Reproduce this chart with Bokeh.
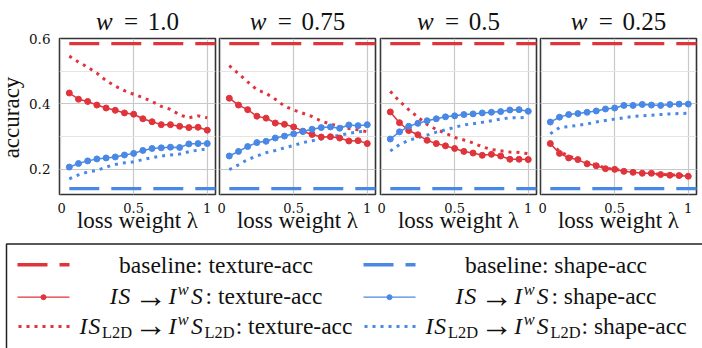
import math
from bokeh.plotting import figure
from bokeh.models import Range1d, FixedTicker, Grid
from bokeh.layouts import column, row
from bokeh.embed import file_html
from bokeh.resources import INLINE
from bokeh.core.properties import value

# ---------------- data ----------------
lam = [i / 16 for i in range(1, 17)]
w_labels = ["1.0", "0.75", "0.5", "0.25"]
baseline_texture_acc = 0.584
baseline_shape_acc = 0.140
x_ticks = [0, 0.5, 1]
x_tick_labels = ["0", "0.5", "1"]
y_ticks = [0.2, 0.4, 0.6]
y_tick_labels = ["0.2", "0.4", "0.6"]

# w = 1.0
texture_IS_w100 = [0.433, 0.414, 0.407, 0.396, 0.387, 0.380, 0.372, 0.368, 0.354, 0.345, 0.336, 0.336, 0.331, 0.327, 0.328, 0.319]
texture_L2D_w100 = [0.546, 0.528, 0.512, 0.494, 0.471, 0.454, 0.440, 0.429, 0.419, 0.407, 0.392, 0.383, 0.366, 0.357, 0.363, 0.357]
shape_IS_w100 = [0.206, 0.217, 0.225, 0.231, 0.234, 0.237, 0.243, 0.248, 0.257, 0.263, 0.265, 0.267, 0.266, 0.277, 0.278, 0.278]
shape_L2D_w100 = [0.170, 0.182, 0.191, 0.196, 0.206, 0.214, 0.219, 0.222, 0.229, 0.235, 0.240, 0.243, 0.246, 0.253, 0.258, 0.262]
# w = 0.75
texture_IS_w075 = [0.417, 0.396, 0.382, 0.362, 0.356, 0.341, 0.337, 0.329, 0.316, 0.306, 0.298, 0.299, 0.295, 0.286, 0.287, 0.278]
texture_L2D_w075 = [0.517, 0.492, 0.467, 0.443, 0.432, 0.414, 0.393, 0.381, 0.371, 0.361, 0.347, 0.338, 0.330, 0.324, 0.320, 0.314]
shape_IS_w075 = [0.240, 0.254, 0.269, 0.281, 0.285, 0.295, 0.301, 0.308, 0.315, 0.322, 0.327, 0.329, 0.325, 0.335, 0.333, 0.336]
shape_L2D_w075 = [0.198, 0.213, 0.229, 0.240, 0.250, 0.257, 0.265, 0.272, 0.281, 0.287, 0.292, 0.298, 0.304, 0.309, 0.314, 0.317]
# w = 0.5
texture_IS_w050 = [0.375, 0.342, 0.318, 0.305, 0.288, 0.278, 0.271, 0.263, 0.254, 0.249, 0.242, 0.245, 0.240, 0.230, 0.230, 0.229]
texture_L2D_w050 = [0.438, 0.408, 0.382, 0.359, 0.337, 0.321, 0.310, 0.297, 0.289, 0.280, 0.268, 0.260, 0.256, 0.252, 0.251, 0.247]
shape_IS_w050 = [0.292, 0.314, 0.331, 0.340, 0.348, 0.354, 0.360, 0.363, 0.367, 0.369, 0.372, 0.374, 0.376, 0.381, 0.382, 0.377]
shape_L2D_w050 = [0.255, 0.275, 0.288, 0.296, 0.304, 0.313, 0.320, 0.328, 0.335, 0.339, 0.343, 0.348, 0.353, 0.357, 0.357, 0.359]
# w = 0.25
texture_IS_w025 = [0.278, 0.248, 0.234, 0.229, 0.216, 0.210, 0.201, 0.199, 0.193, 0.190, 0.187, 0.187, 0.183, 0.181, 0.180, 0.178]
texture_L2D_w025 = [0.278, 0.255, 0.239, 0.231, 0.220, 0.213, 0.203, 0.199, 0.195, 0.191, 0.188, 0.186, 0.184, 0.182, 0.181, 0.179]
shape_IS_w025 = [0.344, 0.359, 0.367, 0.370, 0.374, 0.378, 0.384, 0.387, 0.395, 0.395, 0.398, 0.396, 0.395, 0.398, 0.399, 0.399]
shape_L2D_w025 = [0.308, 0.327, 0.330, 0.334, 0.338, 0.344, 0.349, 0.353, 0.357, 0.361, 0.363, 0.365, 0.367, 0.369, 0.370, 0.371]

panels = [
    (texture_IS_w100, texture_L2D_w100, shape_IS_w100, shape_L2D_w100),
    (texture_IS_w075, texture_L2D_w075, shape_IS_w075, shape_L2D_w075),
    (texture_IS_w050, texture_L2D_w050, shape_IS_w050, shape_L2D_w050),
    (texture_IS_w025, texture_L2D_w025, shape_IS_w025, shape_L2D_w025),
]

# ---------------- style / layout ----------------
RED = "#E0343C"
BLUE = "#4A88E6"
TXT = "#111111"
SERIF = "Liberation Serif"
TICKFONT = "DejaVu Serif"
Y0, Y1 = 0.122, 0.6
X0, X1 = -0.004, 1.056
FRAME_W = 156
FRAME_H = 156
LEFT_W = 57
BORDERS = [(2, 2), (2, 2), (3, 2), (2, 6)]
TITLE_H = 36
PANEL_TOP = 2
PANEL_BOTTOM = 48
PANEL_H = PANEL_TOP + FRAME_H + PANEL_BOTTOM
LEG_H = 106
BASE_CORR = 0.28   # bokeh draws 'alphabetic' text about this many em lower

REG_W = {' ': 250, ':': 278, '-': 333, '.': 250, '=': 564, 'a': 444, 'b': 500, 'c': 444,
         'e': 444, 'g': 500, 'h': 500, 'i': 278, 'l': 278, 'n': 500, 'o': 500, 'p': 500,
         'r': 333, 's': 389, 't': 278, 'u': 500, 'w': 722, 'x': 500, 'y': 500, 'L': 611, 'D': 722}


def text_width(s):
    return sum(REG_W.get(ch, 500) for ch in s) / 1000.0


def P(text, style="normal", adv=None, align="left", scale=1.0, dy=0.0):
    if adv is None:
        adv = text_width(text) * scale
    return dict(text=text, style=style, adv=adv, align=align, scale=scale, dy=dy)


def draw_rich(fig, pieces, cx, base, fs):
    total = sum(pc["adv"] for pc in pieces) * fs
    x = cx - total / 2
    for pc in pieces:
        if pc["style"] is not None:
            size = fs * pc["scale"]
            xx = x + (pc["adv"] * fs / 2 if pc["align"] == "center" else 0)
            yy = base + pc["dy"] * fs - BASE_CORR * size
            fig.text(x=[xx], y=[yy], text=[pc["text"]],
                     text_font=value(SERIF), text_font_style=value(pc["style"]),
                     text_font_size=value(f"{size:.1f}px"),
                     text_align=pc["align"], text_baseline="alphabetic", text_color=TXT)
        x += pc["adv"] * fs


def blank_fig(w, h, x_range=None, y_range=None):
    f = figure(width=w, height=h,
               x_range=x_range if x_range is not None else Range1d(0, w),
               y_range=y_range if y_range is not None else Range1d(h, 0),
               output_backend="svg", toolbar_location=None, min_border=0,
               x_axis_location=None, y_axis_location=None)
    f.outline_line_color = None
    f.background_fill_color = "white"
    f.border_fill_color = "white"
    f.grid.visible = False
    return f


# ---------------- left strip: y tick labels + y label ----------------
LEFT_H = TITLE_H + PANEL_H
per_px = (Y1 - Y0) / FRAME_H
frame_top_abs = TITLE_H + PANEL_TOP
left_top = Y1 + frame_top_abs * per_px
left_bottom = Y0 - (LEFT_H - frame_top_abs - FRAME_H) * per_px
left = blank_fig(LEFT_W, LEFT_H, y_range=Range1d(left_bottom, left_top))
left.text(x=[LEFT_W - 7] * len(y_ticks), y=y_ticks, text=y_tick_labels,
          text_font=value(TICKFONT), text_font_size=value("13.5px"),
          text_align="right", text_baseline="middle", text_color=TXT)
acc_center = Y1 - (117 - frame_top_abs) * per_px
left.text(x=[17.5 - BASE_CORR * 23], y=[acc_center], text=["accuracy"], angle=math.pi / 2,
          text_font=value(SERIF), text_font_size=value("23px"),
          text_align="center", text_baseline="alphabetic", text_color=TXT)

# ---------------- title strip ----------------
titles = blank_fig(702 - LEFT_W, TITLE_H)
frame_centers = []
xpos = 0
for bl, br in BORDERS:
    frame_centers.append(xpos + bl + FRAME_W / 2)
    xpos += bl + FRAME_W + br
for wl, cx in zip(w_labels, frame_centers):
    pieces = [P("w", "italic", 0.74), P(" ", None, 0.278), P("=", "normal", 0.778, "center"),
              P(" ", None, 0.278), P(wl)]
    draw_rich(titles, pieces, cx, 27.5, 25)

# ---------------- panels ----------------
figs = []
for k, (tis, tl2d, sis, sl2d) in enumerate(panels):
    bl, br = BORDERS[k]
    p = figure(width=bl + FRAME_W + br, height=PANEL_H,
               x_range=Range1d(X0, X1), y_range=Range1d(Y0, Y1),
               output_backend="svg", toolbar_location=None,
               min_border_left=bl, min_border_right=br,
               min_border_top=PANEL_TOP, min_border_bottom=PANEL_BOTTOM,
               y_axis_location=None)
    p.background_fill_color = "white"
    p.border_fill_color = "white"
    p.outline_line_color = "#333333"
    p.outline_line_width = 1.6

    p.xgrid.ticker = FixedTicker(ticks=x_ticks)
    p.xgrid.grid_line_color = "#c8c8c8"
    p.xgrid.grid_line_width = 1.2
    p.add_layout(Grid(dimension=1, ticker=FixedTicker(ticks=y_ticks),
                      grid_line_color="#c8c8c8", grid_line_width=1.2))

    xa = p.xaxis[0]
    xa.ticker = FixedTicker(ticks=x_ticks)
    xa.major_label_overrides = dict(zip(x_ticks, x_tick_labels))
    xa.axis_label = "loss weight λ"
    xa.axis_label_text_font = SERIF
    xa.axis_label_text_font_size = "23px"
    xa.axis_label_text_font_style = "normal"
    xa.axis_label_text_color = TXT
    xa.axis_label_standoff = -8
    xa.major_label_text_font = TICKFONT
    xa.major_label_text_font_size = "13px"
    xa.major_label_text_color = TXT
    xa.major_label_standoff = 2
    xa.major_tick_line_color = None
    xa.minor_tick_line_color = None
    xa.axis_line_color = None

    # baselines
    p.ray(x=[lam[0]], y=[baseline_texture_acc], length=0, angle=0,
          line_color=RED, line_width=3.3, line_dash="30 12")
    p.ray(x=[lam[0]], y=[baseline_shape_acc], length=0, angle=0,
          line_color=BLUE, line_width=3.3, line_dash="30 12")
    # L2D dotted
    p.line(lam, tl2d, line_color=RED, line_width=3, line_dash="3 5")
    p.line(lam, sl2d, line_color=BLUE, line_width=3, line_dash="3 5")
    # IS solid with markers
    p.line(lam, tis, line_color=RED, line_width=1.5)
    p.scatter(lam, tis, size=6, color=RED)
    p.line(lam, sis, line_color=BLUE, line_width=1.5)
    p.scatter(lam, sis, size=6, color=BLUE)
    figs.append(p)

# ---------------- legend ----------------
leg = blank_fig(702, LEG_H)
leg.line(x=[6, 6, 760], y=[160, 1.5, 1.5], line_color="#222222", line_width=1.5)

row_glyph_y = [22.3, 54.7, 84]
row_base_y = [29, 60, 89.7]
col_glyph_x = [(17, 69), (363, 415)]
col_center = [215.5, 555.5]
col_color = [RED, BLUE]
col_suffix = [": texture-acc", ": shape-acc"]
col_base = ["baseline: texture-acc", "baseline: shape-acc"]
FS = 23.5


def arrow():
    return [P(" ", None, 0.2), P("→", "normal", 1.1, "center", scale=1.4, dy=0.1), P(" ", None, 0.2)]


math_row2 = [P("I", "italic", 0.38), P("S", "italic", 0.62)] + arrow() + \
            [P("I", "italic", 0.4), P("w", "italic", 0.56, scale=0.7, dy=-0.36), P("S", "italic", 0.62)]
math_row3 = [P("I", "italic", 0.38), P("S", "italic", 0.58),
             P("L2D", "normal", text_width("L2D") * 0.7 + 0.04, scale=0.7, dy=0.2)] + arrow() + \
            [P("I", "italic", 0.4), P("w", "italic", 0.56, scale=0.7, dy=-0.36), P("S", "italic", 0.58),
             P("L2D", "normal", text_width("L2D") * 0.7 + 0.04, scale=0.7, dy=0.2)]

for c in range(2):
    x0, x1 = col_glyph_x[c]
    col = col_color[c]
    leg.line([x0, x1], [row_glyph_y[0]] * 2, line_color=col, line_width=3.5, line_dash="30 12")
    draw_rich(leg, [P(col_base[c])], col_center[c], row_base_y[0], FS)
    leg.line([x0, x1], [row_glyph_y[1]] * 2, line_color=col, line_width=1.3)
    leg.scatter([(x0 + x1) / 2], [row_glyph_y[1]], size=5, color=col)
    draw_rich(leg, math_row2 + [P(col_suffix[c])], col_center[c], row_base_y[1], FS)
    leg.line([x0 + 1, x1], [row_glyph_y[2]] * 2, line_color=col, line_width=3, line_dash="3 5")
    draw_rich(leg, math_row3 + [P(col_suffix[c])], col_center[c], row_base_y[2], FS)

layout = column(row(left, column(titles, row(*figs))), leg)
open("out.html", "w").write(file_html(layout, INLINE))
